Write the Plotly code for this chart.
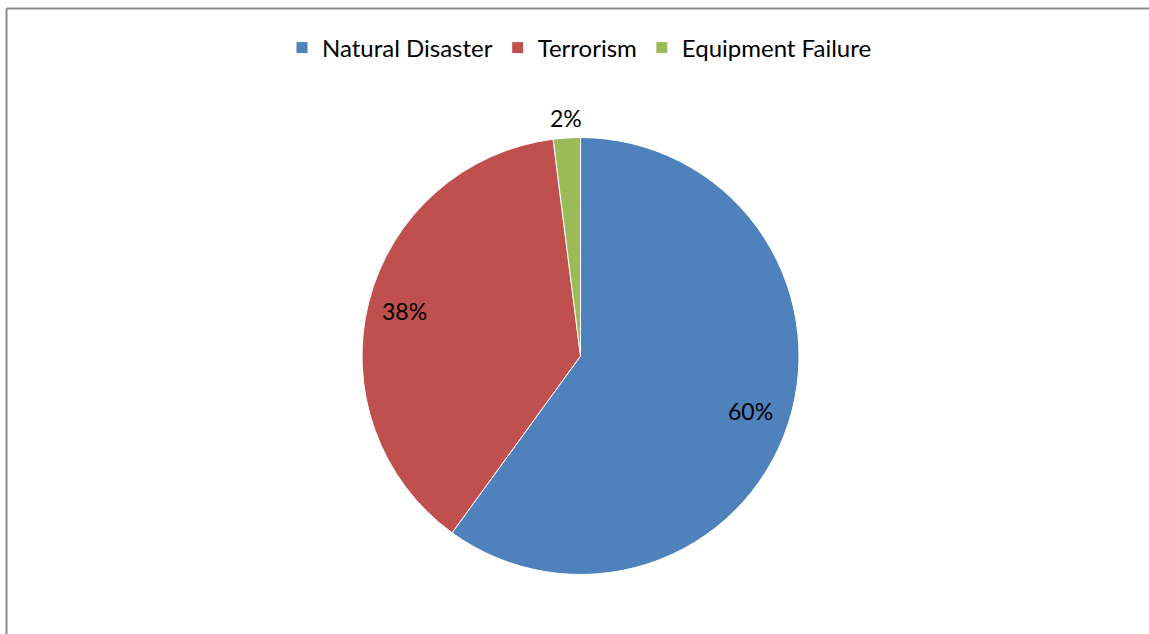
import math
import plotly.graph_objects as go

categories = ["Natural Disaster", "Terrorism", "Equipment Failure"]
values = [60, 38, 2]
colors = ["#4F81BD", "#C0504D", "#9BBB59"]
label_radius = [0.82, 0.83, 1.09]  # label distance as fraction of pie radius

W, H = 1149, 634
cx, cy, R = 580.5, 356.0, 218.5  # pie centre & radius in pixels (layout choice)

fig = go.Figure(
    go.Pie(
        labels=categories,
        values=values,
        sort=False,
        direction="clockwise",
        rotation=0,
        marker=dict(colors=colors, line=dict(color="white", width=1)),
        textinfo="none",
        hoverinfo="label+percent",
        domain=dict(
            x=[(cx - R) / W, (cx + R) / W],
            y=[1 - (cy + R) / H, 1 - (cy - R) / H],
        ),
    )
)

# percentage labels placed along each slice's mid-angle
total = sum(values)
annotations = []
cum = 0.0
for v, rf in zip(values, label_radius):
    mid = (cum + v / 2) / total * 2 * math.pi
    cum += v
    px = cx + rf * R * math.sin(mid)
    py = cy - rf * R * math.cos(mid)
    annotations.append(
        dict(
            x=px / W,
            y=1 - py / H,
            xref="paper",
            yref="paper",
            text=f"{round(v / total * 100)}%",
            showarrow=False,
            font=dict(family="Lato", size=23, color="black"),
            xanchor="center",
            yanchor="middle",
        )
    )

frame_x = 6.5 / W
frame_y = 1 - 8.5 / H
frame_line = dict(color="#8C8C8C", width=2)

fig.update_layout(
    width=W,
    height=H,
    margin=dict(l=0, r=0, t=0, b=0),
    paper_bgcolor="white",
    plot_bgcolor="white",
    showlegend=True,
    legend=dict(
        orientation="h",
        x=0.5 + 5 / W,
        xanchor="center",
        y=1 - 48 / H,
        yanchor="middle",
        font=dict(family="Lato", size=24, color="black"),
        bgcolor="rgba(0,0,0,0)",
    ),
    annotations=annotations,
    shapes=[
        dict(type="line", xref="paper", yref="paper",
             x0=frame_x, x1=frame_x, y0=-0.05, y1=frame_y, line=frame_line),
        dict(type="line", xref="paper", yref="paper",
             x0=frame_x, x1=1.0, y0=frame_y, y1=frame_y, line=frame_line),
    ],
)

fig.write_html(
    "out.html",
    config={"displayModeBar": False},
    post_script="document.body.style.margin='0';document.body.style.overflow='hidden';",
)
